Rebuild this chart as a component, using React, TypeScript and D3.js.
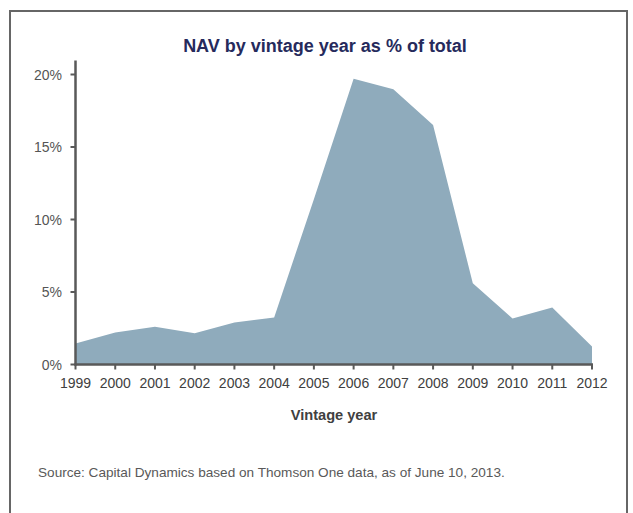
import React from 'react';
import * as d3 from 'd3';

const years = [1999, 2000, 2001, 2002, 2003, 2004, 2005, 2006, 2007, 2008, 2009, 2010, 2011, 2012];
const navShare = [1.45, 2.2, 2.6, 2.15, 2.9, 3.25, 11.4, 19.7, 18.98, 16.52, 5.6, 3.17, 3.93, 1.24];
const yTicks = [0, 5, 10, 15, 20];

const W = 633;
const H = 513;

const App = () => {
  // scales
  const x = d3.scaleLinear().domain([1999, 2012]).range([75.5, 592]);
  const y = d3.scaleLinear().domain([0, 20]).range([364.5, 74.5]);

  const pts = years.map((yr, i) => ({ yr, v: navShare[i] }));
  const area = d3.area<{ yr: number; v: number }>()
    .x(d => x(d.yr))
    .y0(y(0))
    .y1(d => y(d.v));

  const font = 'Arial, "Liberation Sans", sans-serif';
  const axisCol = '#595959';

  return (
    <div style={{ position: 'absolute', left: 0, top: 0 }}>
      <svg width={W} height={H} style={{ display: 'block' }}>
        <rect x={0} y={0} width={W} height={H} fill="#fff" />
        {/* frame */}
        <path d={`M10,${H + 5}V11H627V${H + 5}`} fill="none" stroke="#666" strokeWidth={2} />

        <text x={325} y={52} textAnchor="middle" fontFamily={font} fontWeight="bold" fontSize={18} fill="#262a5c">
          NAV by vintage year as % of total
        </text>

        <path d={area(pts) || ''} fill="#8fabbc" />

        {/* y axis */}
        <line x1={x(1999)} x2={x(1999)} y1={y(20) - 14} y2={y(0) + 1} stroke={axisCol} strokeWidth={2.5} />
        {yTicks.map(t => (
          <g key={t}>
            <line x1={x(1999) - 5} x2={x(1999)} y1={y(t)} y2={y(t)} stroke={axisCol} strokeWidth={2} />
            <text x={62} y={y(t) + 5} textAnchor="end" fontFamily={font} fontSize={14} fill="#555">{t}%</text>
          </g>
        ))}

        {/* x axis */}
        <line x1={x(1999) - 1} x2={x(2012) + 1} y1={y(0)} y2={y(0)} stroke={axisCol} strokeWidth={2.5} />
        {years.map(yr => (
          <g key={yr}>
            <line x1={x(yr)} x2={x(yr)} y1={y(0)} y2={y(0) + 5} stroke={axisCol} strokeWidth={2} />
            <text x={x(yr)} y={388} textAnchor="middle" fontFamily={font} fontSize={14} fill="#404040">{yr}</text>
          </g>
        ))}

        <text x={334} y={420} textAnchor="middle" fontFamily={font} fontWeight="bold" fontSize={14.6} fill="#404040">
          Vintage year
        </text>

        <text x={38} y={477} fontFamily={font} fontSize={13.6} fill="#595959">
          Source: Capital Dynamics based on Thomson One data, as of June 10, 2013.
        </text>
      </svg>
    </div>
  );
};

export default App;
